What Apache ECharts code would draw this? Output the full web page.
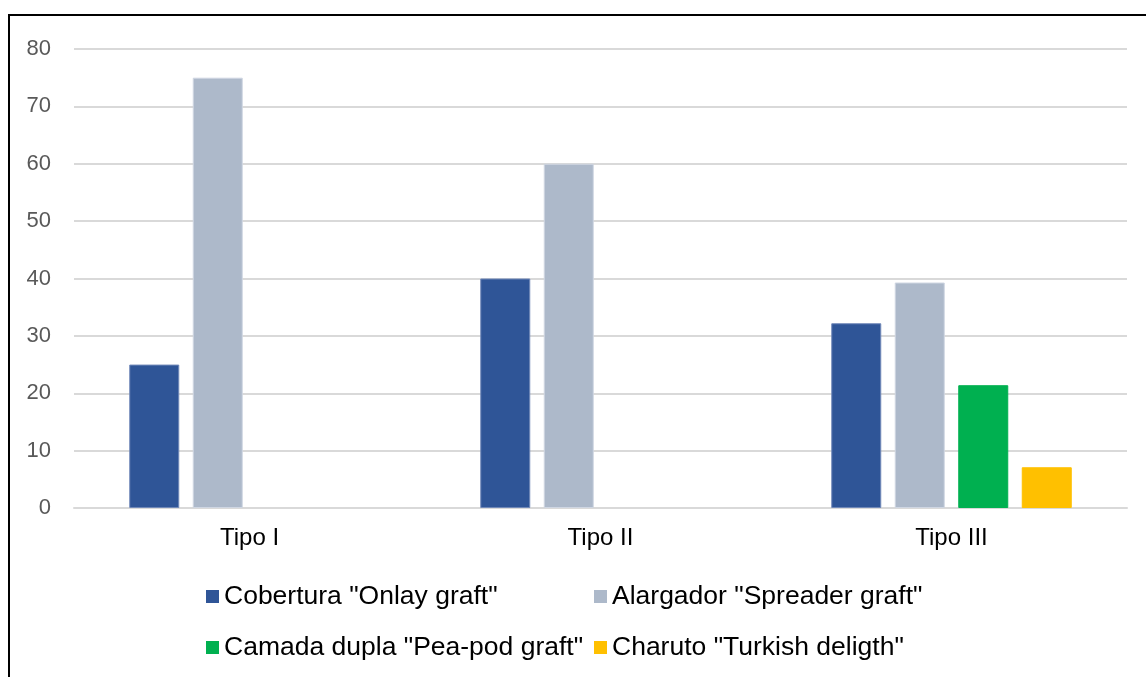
<!DOCTYPE html>
<html>
<head>
<meta charset="utf-8">
<script src="https://cdn.jsdelivr.net/npm/echarts@6/dist/echarts.min.js"></script>
<style>
html,body{margin:0;padding:0;background:#fff;}
#chart{width:1146px;height:677px;}
</style>
</head>
<body>
<div id="chart"></div>
<script>
const categories = ['Tipo I', 'Tipo II', 'Tipo III'];
const seriesNames = ['Cobertura "Onlay graft"', 'Alargador "Spreader graft"', 'Camada dupla "Pea-pod graft"', 'Charuto "Turkish deligth"'];
const onlay = [25, 40, 32.2];
const spreader = [75, 60, 39.3];
const peapod = [null, null, 21.4];
const turkish = [null, null, 7.1];
const yTicks = [0, 10, 20, 30, 40, 50, 60, 70, 80];

const colors = ['#2F5597', '#ADB9CA', '#00B050', '#FFC000'];
const borders = ['#7088b8', '#cfd6e2', '#00B050', '#FFC000'];
const values = [onlay, spreader, peapod, turkish];

const font = '"Liberation Sans", Arial, sans-serif';

const legendPos = [[206, 583], [594, 583], [206, 634], [594, 634]];

const chart = echarts.init(document.getElementById('chart'), null, {renderer: 'canvas'});
chart.setOption({
  animation: false,
  backgroundColor: '#fff',
  graphic: [{
    type: 'rect',
    shape: {x: 9, y: 15, width: 1200, height: 720},
    style: {fill: 'none', stroke: '#000', lineWidth: 2},
    z: 100
  }],
  grid: {left: 74, right: 19, top: 49, bottom: 169},
  xAxis: {
    type: 'category',
    data: categories,
    axisLine: {lineStyle: {color: '#d9d9d9', width: 2}},
    axisTick: {show: false},
    axisLabel: {color: '#000', fontFamily: font, fontSize: 24, margin: 18}
  },
  yAxis: {
    type: 'value',
    min: yTicks[0],
    max: yTicks[yTicks.length - 1],
    interval: 10,
    axisLine: {show: false},
    axisTick: {show: false},
    splitLine: {lineStyle: {color: '#d9d9d9', width: 2}},
    axisLabel: {color: '#595959', fontFamily: font, fontSize: 22, margin: 23}
  },
  legend: legendPos.map((p, i) => ({
    data: [seriesNames[i]],
    left: p[0],
    top: p[1],
    itemWidth: 13,
    itemHeight: 13,
    itemGap: 0,
    icon: 'rect',
    itemStyle: {borderWidth: 0},
    textStyle: {color: '#000', fontFamily: font, fontSize: 26.5},
    padding: 0
  })),
  series: values.map((v, i) => ({
    type: 'bar',
    name: seriesNames[i],
    data: v,
    barWidth: 50,
    barGap: '27%',
    itemStyle: {color: colors[i], borderColor: borders[i], borderWidth: 1}
  }))
});
</script>
</body>
</html>
